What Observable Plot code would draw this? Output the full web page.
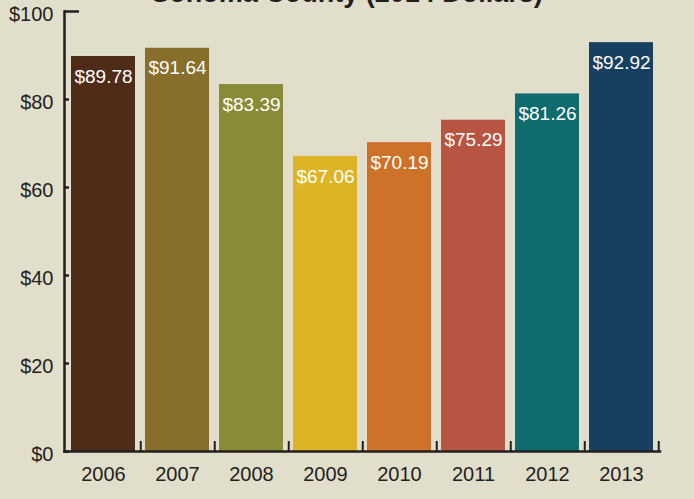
<!DOCTYPE html>
<html>
<head>
<meta charset="utf-8">
<script src="https://cdn.jsdelivr.net/npm/d3@7"></script>
<script src="https://cdn.jsdelivr.net/npm/@observablehq/plot@0.6"></script>
<style>
  html, body { margin: 0; padding: 0; background: #e1decb; overflow: hidden; }
  #wrap { position: relative; width: 694px; height: 499px; }
  #title { position: absolute; left: 0; width: 694px; top: -20px; text-align: center;
           font: bold 27px "Liberation Sans", Arial, sans-serif; line-height: 27px; color: #231f20; white-space: nowrap; }
  #chart { position: absolute; left: 0; top: 0; }
</style>
</head>
<body>
<div id="wrap">
  <div id="chart"></div>
  <div id="title">Sonoma County (2014 Dollars)</div>
</div>
<script>
const years = ["2006", "2007", "2008", "2009", "2010", "2011", "2012", "2013"];
const values = [89.78, 91.64, 83.39, 67.06, 70.19, 75.29, 81.26, 92.92];
const colors = ["#4f2c17", "#876e2b", "#8a8b37", "#dcb426", "#cf7229", "#b75442", "#0e6b6e", "#173f5f"];
const yTicks = [0, 20, 40, 60, 80, 100];

const data = years.map((year, i) => ({year, value: values[i]}));
const ink = "#231f20";

const plot = Plot.plot({
  width: 694,
  height: 499,
  marginLeft: 64,
  marginRight: 34.5,
  marginTop: 11,
  marginBottom: 48,
  style: {background: "transparent", fontFamily: "'Liberation Sans', Arial, sans-serif", color: ink},
  x: {domain: years, paddingInner: 0.134, paddingOuter: 0.067, label: null},
  y: {domain: [0, 100], label: null},
  color: {domain: years, range: colors},
  marks: [
    Plot.barY(data, {x: "year", y: "value", fill: "year"}),
    Plot.text(data, {x: "year", y: "value", text: d => "$" + d.value.toFixed(2), fill: "white", fontSize: 19, dy: 20}),
    // x tick marks at band boundaries
    Plot.ruleX(years, {x: d => d, dx: 37.25, y1: 0, y2: 10 / 4.4, stroke: ink, strokeWidth: 2}),
    // frame lines
    Plot.frame({anchor: "left", stroke: ink, strokeWidth: 2.5}),
    Plot.frame({anchor: "bottom", stroke: ink, strokeWidth: 2.5}),
    // y ticks pointing inward
    Plot.axisY(yTicks.filter(d => d !== 100), {tickSize: -5, text: null, label: null, stroke: ink, strokeWidth: 2.5}),
    Plot.axisY([100], {tickSize: -15, text: null, label: null, stroke: ink, strokeWidth: 2.5}),
    Plot.axisY(yTicks, {tickSize: 0, tickPadding: 11, fontSize: 20, dy: 3, fill: ink, tickFormat: d => "$" + d, label: null}),
    Plot.axisX({tickSize: 0, tickPadding: 15, fontSize: 20, fill: ink, label: null})
  ]
});
document.getElementById("chart").appendChild(plot);
</script>
</body>
</html>
